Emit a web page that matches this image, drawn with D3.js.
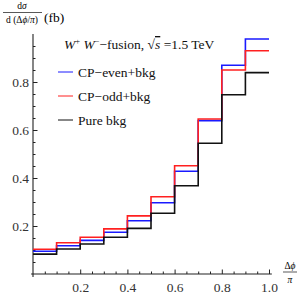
<!DOCTYPE html>
<html>
<head>
<meta charset="utf-8">
<script src="https://cdn.jsdelivr.net/npm/d3@7"></script>
<style>
  html, body { margin: 0; padding: 0; background: #fff; }
  svg text { font-family: "Liberation Serif", "Times New Roman", Times, "DejaVu Serif", serif; }
</style>
</head>
<body>
<div id="chart"></div>
<script>
// bin edges of dphi/pi (10 bins)
const binEdges = [0, 0.1, 0.2, 0.3, 0.4, 0.5, 0.6, 0.7, 0.8, 0.9, 1.0];
// dsigma / d(dphi/pi) in fb, one per bin
const cpEven = [0.095, 0.118, 0.140, 0.174, 0.222, 0.297, 0.428, 0.639, 0.870, 0.979];
const cpOdd = [0.103, 0.130, 0.153, 0.188, 0.242, 0.322, 0.451, 0.646, 0.850, 0.930];
const pureBkg = [0.083, 0.104, 0.125, 0.153, 0.190, 0.253, 0.368, 0.545, 0.747, 0.839];

const seriesNames = ['CP\u2212even+bkg', 'CP\u2212odd+bkg', 'Pure bkg'];
const seriesColors = ['#1a1aff', '#ff2020', '#111111'];

const xTickValues = [0.2, 0.4, 0.6, 0.8, 1.0];
const xTickLabels = ['0.2', '0.4', '0.6', '0.8', '1.0'];
const yTickValues = [0.2, 0.4, 0.6, 0.8];
const yTickLabels = ['0.2', '0.4', '0.6', '0.8'];

const serif = '"Liberation Serif", "Times New Roman", Times, "DejaVu Serif", serif';
const width = 300, height = 294;

const svg = d3.select('#chart').append('svg')
  .attr('width', width)
  .attr('height', height)
  .attr('font-family', serif);

const x = d3.scaleLinear().domain([0, 1]).range([33, 269]);
const y = d3.scaleLinear().domain([0, 1]).range([274, 34]);

// minor ticks every 0.05
const minorX = d3.range(1, 21).map(i => i * 0.05).filter(v => Math.abs(v * 5 - Math.round(v * 5)) > 1e-6);
const minorY = d3.range(1, 20).map(i => i * 0.05).filter(v => Math.abs(v * 5 - Math.round(v * 5)) > 1e-6);

// x axis
const gx = svg.append('g').attr('transform', 'translate(0,' + y(0) + ')');
gx.call(d3.axisBottom(x).tickValues(minorX).tickSizeInner(-2.5).tickSizeOuter(0).tickFormat(''));
gx.append('g').call(d3.axisBottom(x).tickValues(xTickValues).tickSizeInner(-4.5).tickSizeOuter(0)
  .tickPadding(8).tickFormat((d, i) => xTickLabels[i]));

// y axis
const gy = svg.append('g').attr('transform', 'translate(' + x(0) + ',0)');
gy.call(d3.axisLeft(y).tickValues(minorY).tickSizeInner(-2.5).tickSizeOuter(0).tickFormat(''));
gy.append('g').call(d3.axisLeft(y).tickValues(yTickValues).tickSizeInner(-4.5).tickSizeOuter(0)
  .tickPadding(4).tickFormat((d, i) => yTickLabels[i]));

svg.selectAll('.domain').remove();
svg.selectAll('g').attr('font-family', serif);
svg.selectAll('.tick line').attr('stroke', '#222').attr('stroke-width', 1);
svg.selectAll('.tick text').attr('fill', '#333').attr('font-size', 13.5)
  .style('font-family', serif);

// axis lines
svg.append('line')
  .attr('x1', x(-0.008)).attr('x2', x(1.012))
  .attr('y1', y(0)).attr('y2', y(0))
  .attr('stroke', '#222').attr('stroke-width', 1.1);
svg.append('line')
  .attr('x1', x(0)).attr('x2', x(0))
  .attr('y1', y(-0.012)).attr('y2', y(1.0))
  .attr('stroke', '#222').attr('stroke-width', 1.1);

// step lines
const stepLine = d3.line()
  .x(d => x(d[0]))
  .y(d => y(d[1]))
  .curve(d3.curveStepAfter);

[cpEven, cpOdd, pureBkg].forEach((vals, k) => {
  const pts = binEdges.map((e, i) => [e, vals[Math.min(i, vals.length - 1)]]);
  svg.append('path')
    .datum(pts)
    .attr('d', stepLine)
    .attr('fill', 'none')
    .attr('stroke', seriesColors[k])
    .attr('stroke-width', 1.6);
});

// legend
const title = svg.append('text')
  .attr('x', 64).attr('y', 49)
  .style('font-size', '13.5px')
  .attr('fill', '#111');
title.append('tspan').style('font-style', 'italic').text('W');
title.append('tspan').attr('dy', -5).style('font-size', '8.5px').text('+');
title.append('tspan').attr('dy', 5).text(' ');
title.append('tspan').style('font-style', 'italic').text('W');
title.append('tspan').attr('dy', -5).style('font-size', '8.5px').text('\u2212');
title.append('tspan').attr('dy', 5).text('\u2212fusion, \u221A');
title.append('tspan').style('font-style', 'italic').style('text-decoration', 'overline').text('s');
title.append('tspan').text(' =1.5 TeV');

const legend = svg.append('g');
seriesNames.forEach((name, k) => {
  const ly = 72 + k * 24;
  legend.append('line')
    .attr('x1', 58).attr('x2', 73)
    .attr('y1', ly).attr('y2', ly)
    .attr('stroke', seriesColors[k])
    .attr('stroke-width', 1);
  legend.append('text')
    .attr('x', 78).attr('y', ly + 4.5)
    .style('font-size', '13.5px')
    .attr('fill', '#111')
    .text(name);
});

// y label: dsigma / d(dphi/pi) (fb)
const ylab = svg.append('g');
ylab.append('text').attr('x', 22).attr('y', 9).attr('text-anchor', 'middle')
  .style('font-size', '9.5px')
  .html('d<tspan font-style="italic">\u03C3</tspan>');
ylab.append('line').attr('x1', 3).attr('x2', 42).attr('y1', 12.5).attr('y2', 12.5)
  .attr('stroke', '#111').attr('stroke-width', 0.7);
ylab.append('text').attr('x', 22).attr('y', 23).attr('text-anchor', 'middle')
  .style('font-size', '9.5px')
  .html('d (\u0394<tspan font-style="italic">\u03D5</tspan>/<tspan font-style="italic">\u03C0</tspan>)');
ylab.append('text').attr('x', 44).attr('y', 21.5)
  .style('font-size', '13.5px')
  .text('(fb)');

// x label: dphi / pi
const xlab = svg.append('g');
xlab.append('text').attr('x', 290).attr('y', 268.5).attr('text-anchor', 'middle')
  .style('font-size', '9.5px')
  .html('\u0394<tspan font-style="italic">\u03D5</tspan>');
xlab.append('line').attr('x1', 283).attr('x2', 297).attr('y1', 272).attr('y2', 272)
  .attr('stroke', '#111').attr('stroke-width', 0.7);
xlab.append('text').attr('x', 290).attr('y', 283).attr('text-anchor', 'middle')
  .style('font-size', '9.5px').style('font-style', 'italic')
  .text('\u03C0');
</script>
</body>
</html>
